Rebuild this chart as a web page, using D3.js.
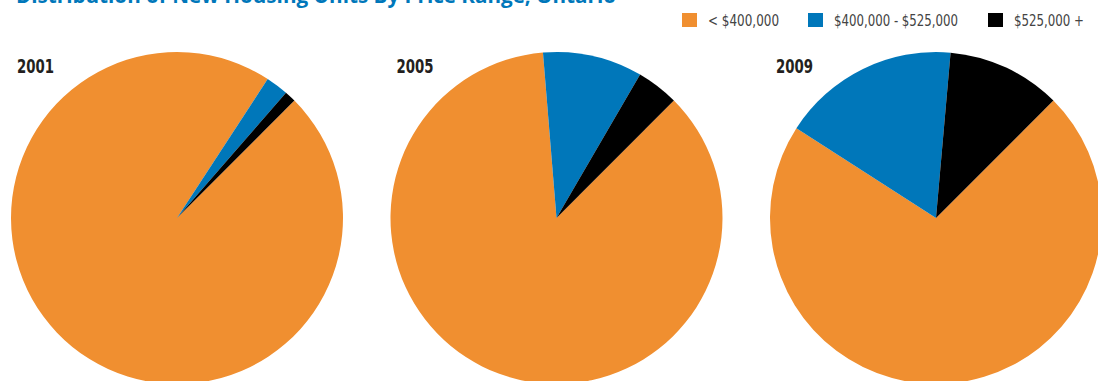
<!DOCTYPE html>
<html>
<head>
<meta charset="utf-8">
<script src="https://cdn.jsdelivr.net/npm/d3@7"></script>
<style>
  html, body { margin: 0; padding: 0; background: #fff; overflow: hidden; }
  svg { display: block; }
</style>
</head>
<body>
<svg id="chart" width="1098" height="381"></svg>
<script>
// Share of new housing units (%) in each price range, Ontario
const years = ["2001", "2005", "2009"];
const priceRanges = ["< $400,000", "$400,000 - $525,000", "$525,000 +"];
const under400 = [96.7, 86.2, 71.6];
const from400to525 = [2.2, 9.7, 17.3];
const over525 = [1.1, 4.1, 11.1];
const rangeColors = ["#F08F30", "#0077BA", "#000000"];

const title = "Distribution of New Housing Units By Price Range, Ontario";

const svg = d3.select("#chart");
const narrow = "'DejaVu Sans Condensed', 'Liberation Sans Narrow', 'Arial Narrow', sans-serif";

// Title (runs off the top edge of the canvas)
svg.append("text")
  .attr("x", 16)
  .attr("y", 3)
  .attr("fill", "#0077BA")
  .attr("font-family", "'Open Sans', 'DejaVu Sans', sans-serif")
  .attr("font-weight", "bold")
  .attr("font-size", 22)
  .attr("textLength", 600)
  .attr("lengthAdjust", "spacingAndGlyphs")
  .text(title);

// Legend
const color = d3.scaleOrdinal().domain(priceRanges).range(rangeColors);
const legendX = d3.scaleOrdinal().domain(priceRanges).range([682, 808, 988]);
const legendTextWidths = d3.scaleOrdinal().domain(priceRanges).range([71, 124, 70]);

const legend = svg.append("g").selectAll("g")
  .data(priceRanges)
  .join("g")
  .attr("transform", d => `translate(${legendX(d)},13)`);

legend.append("rect")
  .attr("width", 15)
  .attr("height", 14)
  .attr("fill", d => color(d));

legend.append("text")
  .attr("x", 26)
  .attr("y", 13)
  .attr("fill", "#444")
  .attr("font-family", narrow)
  .attr("font-stretch", "condensed")
  .attr("font-size", 15)
  .attr("textLength", d => legendTextWidths(d))
  .attr("lengthAdjust", "spacingAndGlyphs")
  .text(d => d);

// Pies
const radius = 166;
const cx = d3.scalePoint().domain(years).range([177, 936]);
const cy = 218;

const pie = d3.pie()
  .sort(null)
  .value(d => d.value)
  .startAngle(Math.PI / 4)
  .endAngle(Math.PI / 4 + 2 * Math.PI);

const arc = d3.arc().innerRadius(0).outerRadius(radius);

years.forEach((year, i) => {
  const values = [under400[i], from400to525[i], over525[i]]
    .map((v, j) => ({ range: priceRanges[j], value: v }));

  const g = svg.append("g")
    .attr("transform", `translate(${cx(year)},${cy})`);

  g.selectAll("path")
    .data(pie(values))
    .join("path")
    .attr("d", arc)
    .attr("fill", d => color(d.data.range));

  svg.append("text")
    .attr("x", cx(year) - 160)
    .attr("y", 73)
    .attr("fill", "#231F20")
    .attr("font-family", narrow)
    .attr("font-stretch", "condensed")
    .attr("font-weight", "bold")
    .attr("font-size", 20)
    .attr("textLength", 37)
    .attr("lengthAdjust", "spacingAndGlyphs")
    .text(year);
});
</script>
</body>
</html>
